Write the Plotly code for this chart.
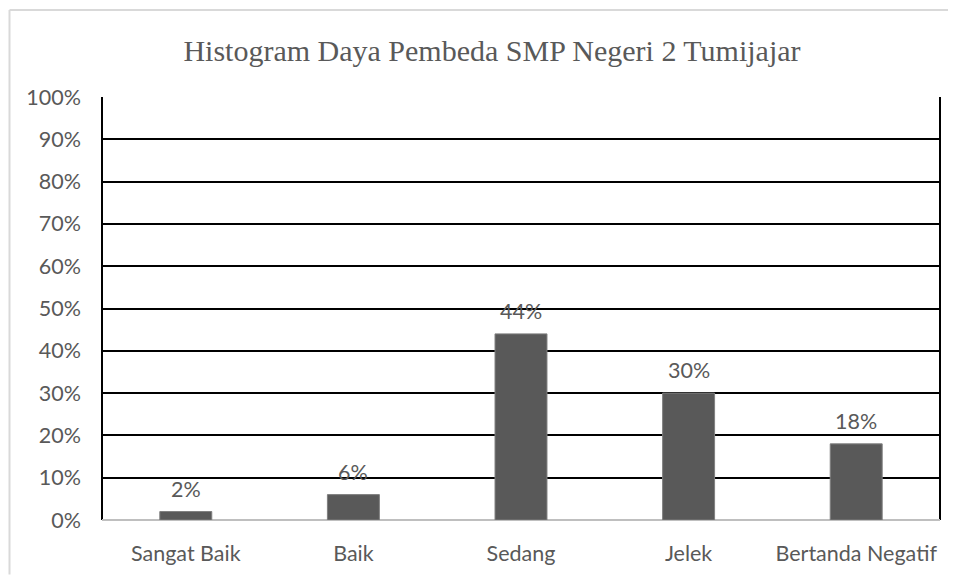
import plotly.graph_objects as go

categories = ["Sangat Baik", "Baik", "Sedang", "Jelek", "Bertanda Negatif"]
values = [0.02, 0.06, 0.44, 0.30, 0.18]
label_texts = ["2%", "6%", "44%", "30%", "18%"]
y_ticks = [i / 10 for i in range(11)]
y_tick_labels = [f"{i*10}%" for i in range(11)]

# page has an 8px body margin, so the figure is drawn in page coords minus 8
OFF = 8
W, H = 956 - OFF, 578 - OFF
L, R, T, B = 102 - OFF, 16, 97 - OFF, 55
pw = W - L - R
ph = H - T - B

GREY_TEXT = "#595959"
tick_font = dict(family="Lato, Carlito, sans-serif", size=21.5, color=GREY_TEXT)

fig = go.Figure(go.Bar(
    x=categories, y=values,
    marker=dict(color="#595959", line=dict(color="#7f7f7f", width=1)),
    width=0.31,
))

for c, v, t in zip(categories, values, label_texts):
    fig.add_annotation(x=c, y=v, text=t, showarrow=False, yanchor="middle",
                       yshift=23, font=tick_font)

# outer chart border (top and left visible)
top_y = 1 + (T - (9.5 - OFF)) / ph
left_x = ((9.5 - OFF) - L) / pw
fig.add_shape(type="line", xref="paper", yref="paper",
              x0=left_x, x1=(W - L) / pw, y0=top_y, y1=top_y,
              line=dict(color="#d9d9d9", width=2))
fig.add_shape(type="line", xref="paper", yref="paper",
              x0=left_x, x1=left_x, y0=top_y, y1=-B / ph,
              line=dict(color="#d9d9d9", width=2))
# plot area left/right black border
for xp in (0, 1):
    fig.add_shape(type="line", xref="paper", yref="paper", x0=xp, x1=xp, y0=0, y1=1,
                  line=dict(color="black", width=2), layer="below")

fig.update_layout(
    width=W, height=H,
    margin=dict(l=L, r=R, t=T, b=B),
    paper_bgcolor="white", plot_bgcolor="white",
    showlegend=False,
    title=dict(text="Histogram Daya Pembeda SMP Negeri 2 Tumijajar",
               x=(492 - OFF) / W, xanchor="center", y=1 - (50 - OFF) / H, yanchor="middle",
               font=dict(family="Liberation Serif, Times New Roman, serif", size=30, color=GREY_TEXT)),
    xaxis=dict(showgrid=False, showline=False, ticks="", tickfont=tick_font,
               ticklabelstandoff=18),
    yaxis=dict(range=[0, 1], tickvals=y_ticks, ticktext=y_tick_labels,
               showgrid=True, gridcolor="black", gridwidth=2,
               zeroline=True, zerolinecolor="#bfbfbf", zerolinewidth=2,
               showline=False, ticks="", tickfont=tick_font, ticklabelstandoff=20),
    bargap=0.69,
)

fig.write_html("out.html")
